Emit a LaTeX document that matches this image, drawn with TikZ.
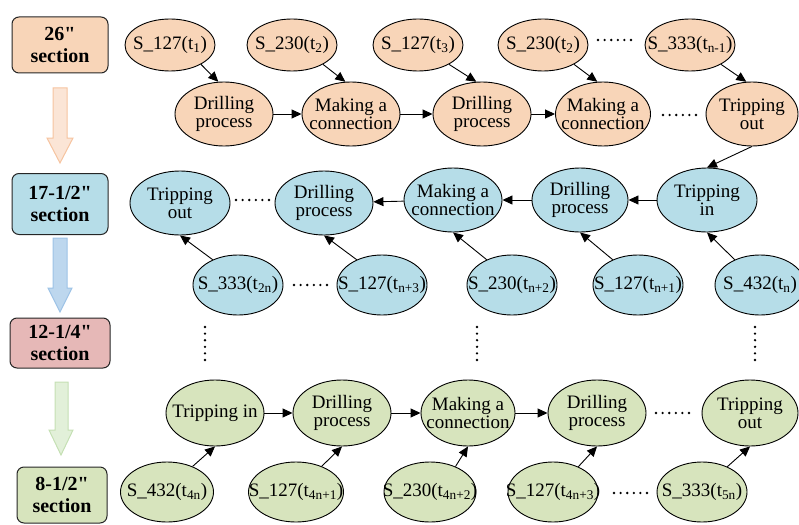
\documentclass[tikz,border=0pt]{standalone}
\usepackage{fontspec}
\setmainfont{Liberation Serif}
\usetikzlibrary{shapes.geometric,arrows.meta}
\definecolor{orfill}{HTML}{F8D5B8}
\definecolor{blfill}{HTML}{B6DDE8}
\definecolor{rdfill}{HTML}{E6B8B7}
\definecolor{grfill}{HTML}{D7E4BD}
\definecolor{orarrF}{HTML}{FBE5D6}
\definecolor{orarrD}{HTML}{F6C4A0}
\definecolor{blarrF}{HTML}{BDD7EE}
\definecolor{blarrD}{HTML}{9DC3E6}
\definecolor{grarrF}{HTML}{E2F0D9}
\definecolor{grarrD}{HTML}{C5E0B4}
\newcommand{\sub}[1]{\textsubscript{#1}}
\font\inchfont="Liberation Serif/B" at 20pt
\newcommand{\inch}{{\inchfont\char"22}}
\begin{document}
\begin{tikzpicture}[x=1pt,y=-1pt,
  ell/.style={ellipse,draw=black,line width=0.9pt,inner xsep=-30pt,inner ysep=-15pt,align=center,
    font=\fontsize{19}{18}\selectfont},
  sn/.style={ell,minimum width=90pt,minimum height=52pt},
  pn/.style={ell,minimum width=98pt,minimum height=64pt},
  secbox/.style={rectangle,rounded corners=7pt,draw=black!85,line width=1pt,
    minimum width=96pt,minimum height=56pt,align=center,
    font=\fontsize{20}{22}\selectfont\bfseries},
  arr/.style={-{Triangle[length=10pt,width=9pt]},line width=0.9pt,black},
  dotsline/.style={line width=2.6pt,line cap=round,dash pattern=on 0pt off 6.6pt,black},
]
\useasboundingbox (0,0) rectangle (799,524);

% section boxes
\node[secbox,fill=orfill] (b1) at (60,45) {26\inch\\section};
\node[secbox,fill=blfill,minimum height=61pt] (b2) at (60,204) {17-1/2\inch\\section};
\node[secbox,fill=rdfill,minimum width=100pt,minimum height=50pt] (b3) at (60,343) {12-1/4\inch\\section};
\node[secbox,fill=grfill,minimum width=90pt] (b4) at (62,495) {8-1/2\inch\\section};

% block arrows
\draw[fill=orarrF,draw=orarrD,line width=1pt] (53,88) -- (67,88) -- (67,138) -- (73,138) -- (60,163) -- (47,138) -- (53,138) -- cycle;
\draw[fill=blarrF,draw=blarrD,line width=1pt] (53,238) -- (67,238) -- (67,288) -- (72,288) -- (60,312) -- (48,288) -- (53,288) -- cycle;
\draw[fill=grarrF,draw=grarrD,line width=1pt] (55,382) -- (68,382) -- (68,430) -- (73,430) -- (61,455) -- (49,430) -- (55,430) -- cycle;

% row 1
\node[sn,fill=orfill] (s11) at (170,45) {S\_127(t\sub{1})};
\node[sn,fill=orfill] (s12) at (292,45) {S\_230(t\sub{2})};
\node[sn,fill=orfill] (s13) at (418,45) {S\_127(t\sub{3})};
\node[sn,fill=orfill] (s14) at (543,45) {S\_230(t\sub{2})};
\node[sn,fill=orfill] (s15) at (690,45) {S\_333(t\sub{n-1})};
\node[pn,fill=orfill] (p11) at (224,114) {Drilling\\process};
\node[pn,fill=orfill] (p12) at (351,114) {Making a\\connection};
\node[pn,fill=orfill] (p13) at (482,114) {Drilling\\process};
\node[pn,fill=orfill,minimum width=95pt] (p14) at (603,114) {Making a\\connection};
\node[pn,fill=orfill,minimum width=92pt] (p15) at (752,114) {Tripping\\out};

% row 2
\node[pn,fill=blfill,minimum width=100pt] (p21) at (180,203) {Tripping\\out};
\node[pn,fill=blfill] (p22) at (324,203) {Drilling\\process};
\node[pn,fill=blfill] (p23) at (453,200) {Making a\\connection};
\node[pn,fill=blfill,minimum width=96pt] (p24) at (580,200) {Drilling\\process};
\node[pn,fill=blfill,minimum width=100pt] (p25) at (707,200) {Tripping\\in};
\node[sn,fill=blfill,minimum height=60pt] (s21) at (238,285) {S\_333(t\sub{2n})};
\node[sn,fill=blfill,minimum height=60pt] (s22) at (382,285) {S\_127(t\sub{n+3})};
\node[sn,fill=blfill,minimum height=60pt] (s23) at (512,285) {S\_230(t\sub{n+2})};
\node[sn,fill=blfill,minimum height=60pt] (s24) at (638,285) {S\_127(t\sub{n+1})};
\node[sn,fill=blfill,minimum height=60pt] (s25) at (760,285) {S\_432(t\sub{n})};

% row 3
\node[pn,fill=grfill,minimum height=66pt] (p31) at (215,413) {Tripping in};
\node[pn,fill=grfill,minimum height=66pt] (p32) at (342,413) {Drilling\\process};
\node[pn,fill=grfill,minimum width=94pt,minimum height=66pt] (p33) at (468,413) {Making a\\connection};
\node[pn,fill=grfill,minimum height=66pt] (p34) at (597,413) {Drilling\\process};
\node[pn,fill=grfill,minimum width=96pt,minimum height=66pt] (p35) at (750,413) {Tripping\\out};
\node[sn,fill=grfill,minimum width=93pt,minimum height=60pt] (s31) at (167,492) {S\_432(t\sub{4n})};
\node[sn,fill=grfill,minimum width=95pt,minimum height=60pt] (s32) at (296,492) {S\_127(t\sub{4n+1})};
\node[sn,fill=grfill,minimum width=92pt,minimum height=60pt] (s33) at (430,492) {S\_230(t\sub{4n+2})};
\node[sn,fill=grfill,minimum width=90pt,minimum height=60pt] (s34) at (553,492) {S\_127(t\sub{4n+3})};
\node[sn,fill=grfill,minimum width=90pt,minimum height=60pt] (s35) at (702,492) {S\_333(t\sub{5n})};

% arrows row 1
\draw[arr] (s11.-32) -- (p11.100);
\draw[arr] (s12.-32) -- (p12.100);
\draw[arr] (s13.-32) -- (p13.100);
\draw[arr] (s14.-32) -- (p14.100);
\draw[arr] (s15.-32) -- (p15.100);
\draw[arr] (p11) -- (p12);
\draw[arr] (p12) -- (p13);
\draw[arr] (p13) -- (p14);
\draw[arr] (p15.south) -- (p25.north);

% arrows row 2
\draw[arr] (p25) -- (p24);
\draw[arr] (p24) -- (p23);
\draw[arr] (p23) -- (p22);
\draw[arr] (s21.135) -- (p21.south);
\draw[arr] (s22.135) -- (p22.south);
\draw[arr] (s23.135) -- (p23.south);
\draw[arr] (s24.135) -- (p24.south);
\draw[arr] (s25.135) -- (p25.south);

% arrows row 3
\draw[arr] (p31) -- (p32);
\draw[arr] (p32) -- (p33);
\draw[arr] (p33) -- (p34);
\draw[arr] (s31.45) -- (p31.south);
\draw[arr] (s32.45) -- (p32.south);
\draw[arr] (s33.45) -- (p33.south);
\draw[arr] (s34.45) -- (p34.south);
\draw[arr] (s35.45) -- (p35.south);

% dots
\coordinate (h1a) at (598,40); \coordinate (h1b) at (636,40);
\coordinate (h2a) at (663,115); \coordinate (h2b) at (700,115);
\coordinate (h3a) at (236,200); \coordinate (h3b) at (273,200);
\coordinate (h4a) at (294,285); \coordinate (h4b) at (330,285);
\coordinate (h5a) at (656,413); \coordinate (h5b) at (693,413);
\coordinate (h6a) at (614,493); \coordinate (h6b) at (650,493);
\foreach \a/\b in {h1a/h1b,h2a/h2b,h3a/h3b,h4a/h4b,h5a/h5b,h6a/h6b}
  \draw[dotsline] (\a) -- (\b);
\coordinate (v1a) at (205,327); \coordinate (v1b) at (205,362);
\coordinate (v2a) at (477,327); \coordinate (v2b) at (477,362);
\coordinate (v3a) at (755,327); \coordinate (v3b) at (755,362);
\foreach \a/\b in {v1a/v1b,v2a/v2b,v3a/v3b}
  \draw[dotsline] (\a) -- (\b);
\end{tikzpicture}
\end{document}
